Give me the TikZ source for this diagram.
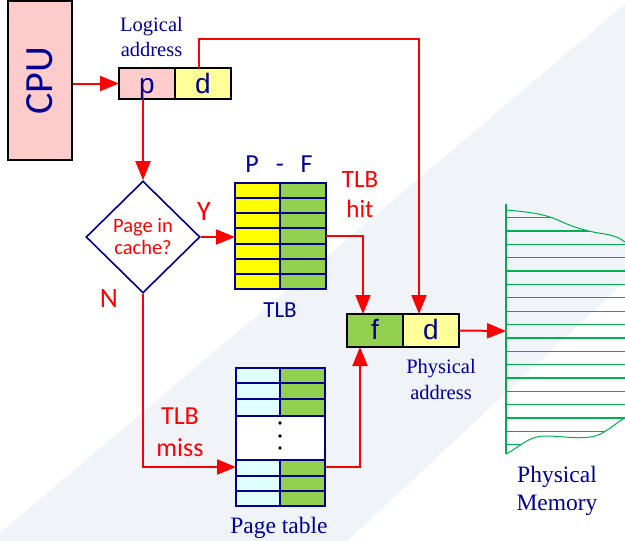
\documentclass[tikz,border=0pt]{standalone}
\usepackage{fontspec}
\setmainfont{Liberation Serif}
\newfontfamily\calibri{Carlito}
\newfontfamily\arialf{Liberation Sans}
\usetikzlibrary{shapes.geometric,arrows.meta,calc}
\definecolor{bggray}{RGB}{240,243,247}
\definecolor{txtblue}{RGB}{0,0,150}
\definecolor{tabblue}{RGB}{0,0,140}
\definecolor{pinkf}{RGB}{255,204,204}
\definecolor{lyellow}{RGB}{255,255,153}
\definecolor{yellowf}{RGB}{255,255,0}
\definecolor{greenf}{RGB}{146,208,80}
\definecolor{cyanf}{RGB}{224,255,255}
\definecolor{memgreen}{RGB}{0,176,80}
\definecolor{redc}{RGB}{255,0,0}
\begin{document}
\begin{tikzpicture}[x=1pt,y=-1pt,
  arr/.style={draw=redc, line width=2pt, -{Triangle[length=19pt,width=15pt]}},
  addrcell/.style={draw=black, line width=1.5pt, minimum width=56pt, minimum height=31pt,
    inner sep=0pt, outer sep=0pt, font=\arialf\fontsize{28}{30}\selectfont, text=txtblue,
    text height=25pt, text depth=6pt},
  physcell/.style={addrcell, minimum height=33pt, text height=23pt, text depth=6pt},
  tabcell/.style={draw=tabblue, line width=2pt},
  serlbl/.style={align=center, text=txtblue, inner sep=0pt},
  redlbl/.style={align=center, text=redc, inner sep=0pt},
  bluesans/.style={align=center, text=txtblue, inner sep=0pt},
  memline/.style={draw=memgreen, line width=1.3pt}
]
\useasboundingbox (0,0) rectangle (625,541);
% background
\fill[white] (0,0) rectangle (625,541);
\fill[bggray] (625,4) -- (0,533) -- (0,541) -- (347,541) -- (625,282) -- cycle;

% CPU
\node[draw=black, line width=1.5pt, fill=pinkf, minimum width=64pt, minimum height=159pt,
  inner sep=0pt, text=txtblue, font=\calibri\fontsize{40}{42}\selectfont] (cpu) at (40,80.5) {\rotatebox{90}{CPU}};

% logical address
\node[addrcell, fill=pinkf] (p) at (147,83.5) {p};
\node[addrcell, fill=lyellow] (d) at (203,83.5) {d};
\node[serlbl, font=\fontsize{20.5}{25}\selectfont] (logical) at (151.5,37) {Logical\\address};

% decision
\node[diamond, draw=tabblue, line width=1.6pt, fill=white, minimum width=114pt, minimum height=112pt,
  inner sep=0pt, align=center, text=redc, font=\calibri\fontsize{20.5}{22}\selectfont] (cache) at (143,237) {Page in\\cache?};
\node[redlbl, font=\calibri\fontsize{28}{30}\selectfont, anchor=base] (ylbl) at (204,220) {Y};
\node[redlbl, font=\calibri\fontsize{28}{30}\selectfont, anchor=base] (nlbl) at (109,307) {N};

% TLB
\node[inner sep=0pt, outer sep=0pt, minimum width=91pt, minimum height=106pt] (tlb) at (280.5,236) {};
\foreach \i in {0,...,6} {
  \draw[tabcell, fill=yellowf] (235,{183+\i*15.143}) rectangle (280,{183+(\i+1)*15.143});
  \draw[tabcell, fill=greenf] (280,{183+\i*15.143}) rectangle (326,{183+(\i+1)*15.143});
}
\draw[tabcell] (tlb.north west) rectangle (tlb.south east);
\node[bluesans, font=\calibri\fontsize{26}{28}\selectfont, anchor=base] (pf) at (279,172) {P\hspace{17pt}-\hspace{17pt}F};
\node[bluesans, font=\calibri\fontsize{23}{25}\selectfont, anchor=base] (tlblbl) at (280,317) {TLB};
\node[redlbl, font=\calibri\fontsize{25}{30}\selectfont] (tlbhit) at (360,195) {TLB\\hit};
\node[redlbl, font=\calibri\fontsize{26}{32}\selectfont] (tlbmiss) at (180,432.5) {TLB\\miss};

% Page table
\node[inner sep=0pt, outer sep=0pt, minimum width=89pt, minimum height=138pt] (pt) at (280.5,437) {};
\foreach \a/\b in {368/383.3, 383.3/399, 399/416, 460/475.5, 475.5/491, 491/506} {
  \draw[tabcell, fill=cyanf] (236,\a) rectangle (280,\b);
  \draw[tabcell, fill=greenf] (280,\a) rectangle (325,\b);
}
\draw[tabcell, fill=white] (236,416) rectangle (325,460);
\fill[black] (280,423) circle (1.9pt) (280,436) circle (1.9pt) (280,448) circle (1.9pt);
\draw[tabcell] (pt.north west) rectangle (pt.south east);
\node[serlbl, font=\fontsize{23.5}{28}\selectfont, anchor=base] (ptlbl) at (279,533) {Page table};

% physical address
\node[physcell, fill=greenf] (f) at (375,330.5) {f};
\node[physcell, fill=lyellow] (pd) at (431,330.5) {d};
\node[serlbl, font=\fontsize{20.5}{26}\selectfont] (physaddr) at (441,379) {Physical\\address};

% physical memory
\begin{scope}
\clip (506,210) .. controls (530,212) and (545,214) .. (560,221)
  .. controls (575,228) and (590,232) .. (605,234)
  .. controls (615,236) and (620,238) .. (625,242)
  -- (625,418)
  .. controls (615,423) and (608,432) .. (595,436)
  .. controls (580,440) and (565,436) .. (545,436)
  .. controls (528,436) and (520,447) .. (506,454) -- cycle;
\foreach \k in {0,...,17} \draw[memline] (506,{217.7+\k*13.35}) -- (626,{217.7+\k*13.35});
\end{scope}
\draw[memline, line width=1pt] (506,210) .. controls (530,212) and (545,214) .. (560,221)
  .. controls (575,228) and (590,232) .. (605,234)
  .. controls (615,236) and (620,238) .. (625,242);
\draw[memline, line width=1pt] (506,454) .. controls (520,447) and (528,436) .. (545,436)
  .. controls (565,436) and (580,440) .. (595,436)
  .. controls (608,432) and (615,423) .. (625,418);
\draw[memline] (506,204) -- (506,454);
\coordinate (mem) at (506,331);
\node[serlbl, font=\fontsize{23.5}{28}\selectfont] (physmem) at (557,490.5) {Physical\\Memory};

% connectors
\draw[arr] (cpu.east |- p.west) -- (p.west);
\draw[arr] ($(d.north)+(-4,0)$) -- ++(0,-29) -| ($(pd.north)+(-12,0)$);
\draw[arr] (cache.north |- p.south) -- (cache.north);
\draw[arr] (cache.east) -- (tlb.west |- cache.east);
\draw[arr] (tlb.east) -| ($(f.north)+(-12,0)$);
\draw[arr] (cache.south) |- ($(pt.west)+(0,30)$);
\draw[arr] ($(pt.east)+(0,30)$) -| ($(f.south)+(-15,0)$);
\draw[arr] (pd.east) -- (mem);
\end{tikzpicture}
\end{document}
